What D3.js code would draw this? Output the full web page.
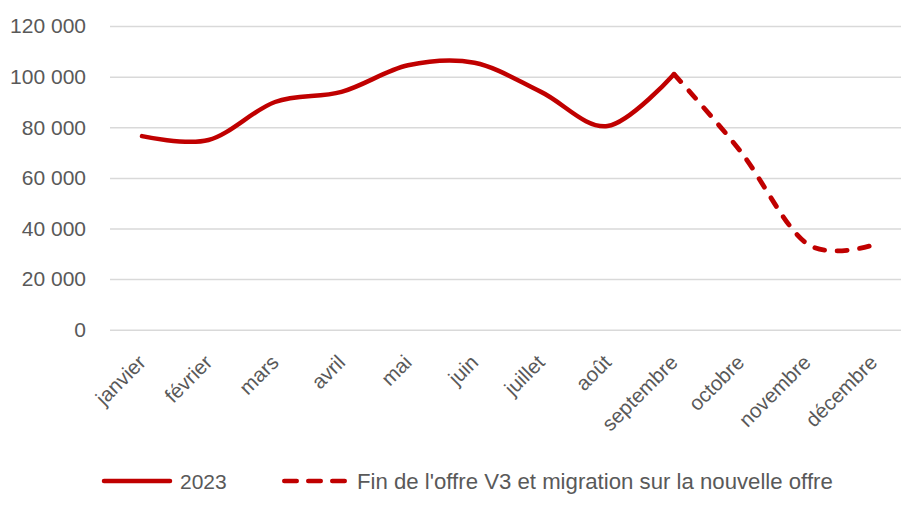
<!DOCTYPE html>
<html>
<head>
<meta charset="utf-8">
<script src="https://cdn.jsdelivr.net/npm/d3@7"></script>
<style>
  body { margin: 0; background: #fff; }
  svg { display: block; font-family: "Liberation Sans", Arial, sans-serif; }
</style>
</head>
<body>
<svg width="901" height="514"></svg>
<script>
// data
var months = ["janvier", "février", "mars", "avril", "mai", "juin", "juillet", "août", "septembre", "octobre", "novembre", "décembre"];
var values2023 = [76500, 75000, 90000, 94000, 104500, 105500, 94000, 80500, 101000];
var valuesMigration = [101000, 70500, 34000, 33500];   // septembre -> décembre
var yTicks = [0, 20000, 40000, 60000, 80000, 100000, 120000];
var legendLabels = ["2023", "Fin de l'offre V3 et migration sur la nouvelle offre"];

var red = "#C00000";
var textColor = "#595959";

var svg = d3.select("svg");

var x = d3.scaleBand().domain(months).range([108.75, 906.75]);
var y = d3.scaleLinear().domain([0, 120000]).range([329.7, 26.1]);
var cx = function(m) { return x(m) + x.bandwidth() / 2; };

// y axis with grid lines
var yAxis = svg.append("g")
	.attr("class", "y axis")
	.attr("transform", "translate(110,0)")
	.call(d3.axisLeft(y).tickValues(yTicks).tickSize(0).tickPadding(24)
		.tickFormat(function(d) { return d3.format(",")(d).replace(/,/g, " "); }));
yAxis.select(".domain").remove();
yAxis.selectAll(".tick text")
	.style("font-size", "21px")
	.style("font-family", "'Liberation Sans', Arial, sans-serif")
	.attr("fill", textColor);
yAxis.selectAll(".tick").append("line")
	.attr("x1", 0)
	.attr("x2", 800)
	.attr("stroke", "#D9D9D9")
	.attr("stroke-width", 1.5);

// x axis labels, rotated
var xAxis = svg.append("g")
	.attr("class", "x axis")
	.attr("transform", "translate(0,329.7)")
	.call(d3.axisBottom(x).tickSize(0).tickPadding(0));
xAxis.select(".domain").remove();
xAxis.selectAll(".tick text")
	.attr("y", 0)
	.attr("dy", 0)
	.attr("transform", "translate(5,34) rotate(-45)")
	.style("text-anchor", "end")
	.style("font-size", "20.5px")
	.style("font-family", "'Liberation Sans', Arial, sans-serif")
	.attr("fill", textColor);

var line = d3.line()
	.x(function(d) { return cx(d.m); })
	.y(function(d) { return y(d.v); })
	.curve(d3.curveCardinal.tension(0));

var solidData = values2023.map(function(v, i) { return { m: months[i], v: v }; });
var dashData = valuesMigration.map(function(v, i) { return { m: months[i + 8], v: v }; });

svg.append("path")
	.datum(solidData)
	.attr("d", line)
	.attr("fill", "none")
	.attr("stroke", red)
	.attr("stroke-width", 4.5)
	.attr("stroke-linecap", "round")
	.attr("stroke-linejoin", "round");

svg.append("path")
	.datum(dashData)
	.attr("d", line)
	.attr("fill", "none")
	.attr("stroke", red)
	.attr("stroke-width", 4.8)
	.attr("stroke-linecap", "round")
	.attr("stroke-dasharray", "10,12.5");

// legend
var legend = svg.append("g").attr("class", "legend");
legend.append("line")
	.attr("x1", 104).attr("x2", 170).attr("y1", 481).attr("y2", 481)
	.attr("stroke", red).attr("stroke-width", 4.5).attr("stroke-linecap", "round");
legend.append("text")
	.attr("x", 180).attr("y", 489)
	.attr("fill", textColor)
	.style("font-size", "21px")
	.text(legendLabels[0]);
legend.append("line")
	.attr("x1", 284.25).attr("x2", 344.75).attr("y1", 481).attr("y2", 481)
	.attr("stroke", red).attr("stroke-width", 4.5).attr("stroke-linecap", "round")
	.attr("stroke-dasharray", "12.5,11.5");
legend.append("text")
	.attr("x", 357).attr("y", 489)
	.attr("fill", textColor)
	.style("font-size", "22.2px")
	.text(legendLabels[1]);
</script>
</body>
</html>
